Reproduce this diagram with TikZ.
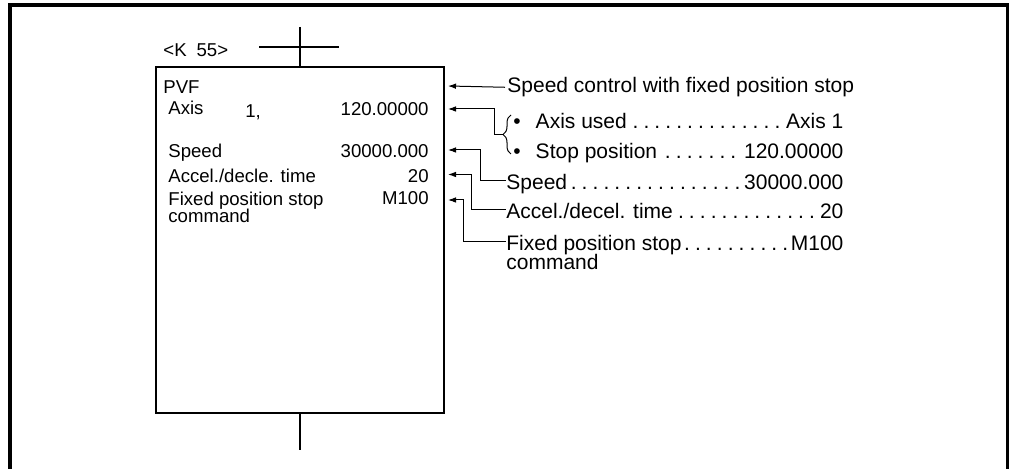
\documentclass[tikz,border=0pt]{standalone}
\usepackage{fontspec}
\setmainfont{Liberation Sans}
\usepackage{tikz}
\usetikzlibrary{arrows.meta,positioning,decorations.pathreplacing}
\newcommand{\dotrow}[3]{\makebox[#1][s]{#2\cleaders\hbox to 0.52em{\hss.\hss}\hfill#3}}
\newcommand{\tightskip}{\lineskiplimit=-10pt\relax}

\begin{document}
\begin{tikzpicture}[x=0.5pt,y=-0.5pt,
    every node/.style={inner sep=0pt,align=left},
    boxtxt/.style={font={\fontsize{9.3}{8.6}\selectfont\tightskip}},
    lbltxt/.style={font={\fontsize{10.5}{9.9}\selectfont\tightskip}},
    lead/.style={-{Latex[length=4pt,width=2.8pt]},line width=0.5pt}]
  \useasboundingbox (0,0) rectangle (1009,469);
  % page frame, open at the bottom
  \draw[line width=2pt] (10,469) -- (10,5.5) -- (1007.5,5.5) -- (1007.5,469);

  % instruction box on its rung
  \node[draw,line width=0.8pt,minimum width=144pt,minimum height=173pt] (pvf) at (300,240) {};
  \coordinate (rungtop) at (300,27);
  \coordinate (rungbot) at (300,450);
  \coordinate (railL) at (259,47);
  \coordinate (railR) at (339,47);
  \draw[line width=0.7pt] (rungtop) -- (pvf.north);
  \draw[line width=0.7pt] (railL) -- (railR);
  \draw[line width=0.7pt] (pvf.south) -- (rungbot);
  \node[boxtxt,anchor=base west] (kno) at (163,56.5) {<K\hspace{5pt}55>};

  \node[boxtxt,anchor=base west] (cmd) at (163,94) {PVF};
  \node[boxtxt,anchor=base west] (axl) at (168,115) {Axis};
  \node[boxtxt,anchor=base west] (axn) at (245,118) {1,};
  \node[boxtxt,anchor=base east] (axv) at (429,115.5) {120.00000};
  \node[boxtxt,anchor=base west] (spl) at (168,158) {Speed};
  \node[boxtxt,anchor=base east] (spv) at (429,158) {30000.000};
  \node[boxtxt,anchor=base west] (acl) at (168,183) {Accel./decle. time};
  \node[boxtxt,anchor=base east] (acv) at (429,183) {20};
  \node[boxtxt,anchor=north west] (fxl) at (168,191.5) {Fixed position stop\\command};
  \node[boxtxt,anchor=base east] (fxv) at (429,205) {M100};

  % explanations on the right
  \coordinate (in1) at (448,86);
  \coordinate (in2) at (448,109);
  \coordinate (in3) at (448,150);
  \coordinate (in4) at (448,174.5);
  \coordinate (in5) at (448,200);

  \node[lbltxt,anchor=base west] (t1) at (507,92.7) {Speed control with fixed position stop};
  \node[lbltxt,anchor=base west] (b1) at (513,128.3) {\dotrow{165pt}{\textbullet\hspace{7.5pt}Axis used}{Axis 1}};
  \node[lbltxt,anchor=base west] (b2) at (513,158.3) {\dotrow{165pt}{\textbullet\hspace{7.5pt}Stop position}{120.00000}};
  \node[lbltxt,anchor=base west] (t3) at (506,190) {\dotrow{168.5pt}{Speed}{30000.000}};
  \node[lbltxt,anchor=base west] (t4) at (506,218.3) {\dotrow{168.5pt}{Accel./decel. time}{20}};
  \node[lbltxt,anchor=north west] (t5) at (506,234.5) {\dotrow{168.5pt}{Fixed position stop}{M100}\\command};

  \draw[decorate,decoration={brace,amplitude=4pt},line width=0.5pt] (511,154) -- (511,115);
  \coordinate (brtip) at (503,134.5);

  \draw[lead] ([xshift=-1pt]t1.west) -- (in1);
  \draw[lead] (brtip) -- ++(-9,0) |- (in2);
  \draw[lead] ([yshift=4.5pt]t3.base west) -- ++(-26,0) |- (in3);
  \draw[lead] ([yshift=4.5pt]t4.base west) -- ++(-35,0) |- (in4);
  \draw[lead] ([yshift=-3.6pt]t5.north west) -- ++(-43,0) |- (in5);
\end{tikzpicture}
\end{document}
